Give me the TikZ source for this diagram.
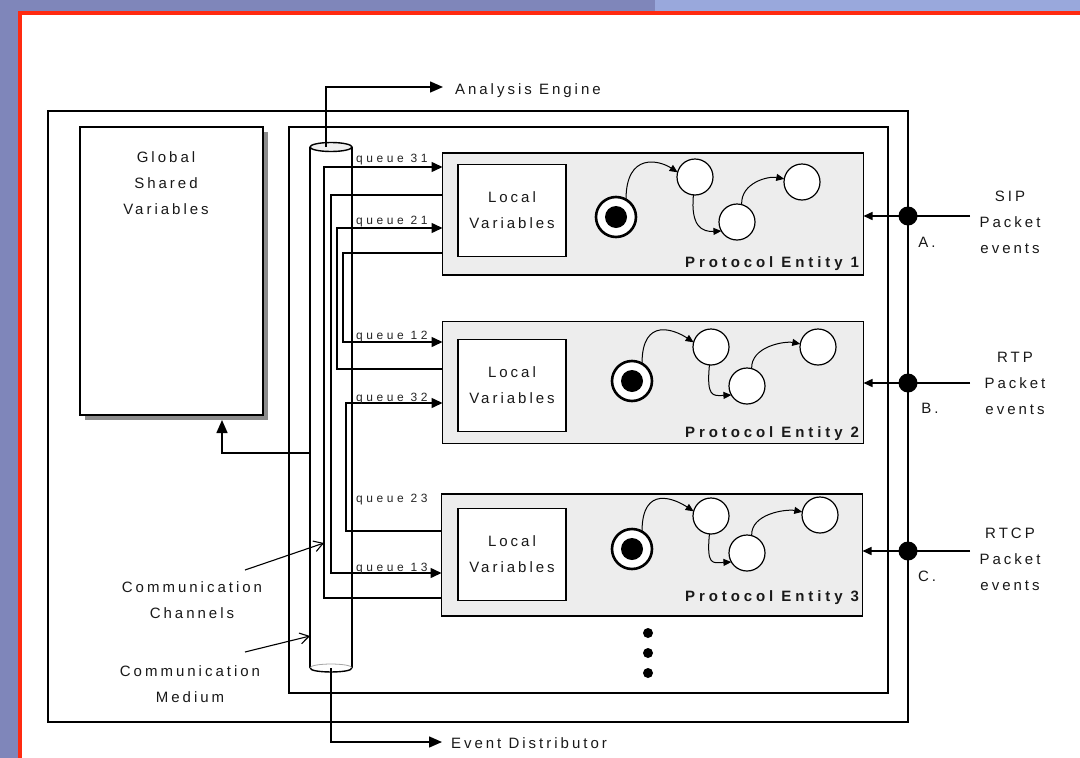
\documentclass[tikz,border=0pt]{standalone}
\usepackage{fontspec}
\setmainfont{Liberation Sans}
\newfontfamily\lsp[LetterSpace=20]{Liberation Sans}
\newfontfamily\lspq[LetterSpace=30]{Liberation Sans}
\newfontfamily\lspb[LetterSpace=26]{Liberation Sans}
\usetikzlibrary{arrows.meta}
\definecolor{bgpurple}{HTML}{7F86BA}
\definecolor{bgblue}{HTML}{99A8DC}
\definecolor{frred}{HTML}{FF2A10}
\newcommand\fsmach[9]{%
  \node[stst] (#1s) at (#2,#3) {};
  \node[dotblk] (#1d) at (#2,#3) {};
  \node[st] (#1a) at (#4,#5) {};
  \node[st] (#1b) at (#6,#7) {};
  \node[st] (#1c) at (#8,#9) {};
  \draw[sarr] (#1s.60) .. controls +(0,-48) and +(-18,-12) .. (#1a.165);
  \draw[sarr] (#1a.265) .. controls +(-3,32) and +(-19,1) .. (#1b.210);
  \draw[sarr] (#1b.75) .. controls +(-1,-22) and +(-16,-3) .. (#1c.170);
}
\begin{document}
\begin{tikzpicture}[x=1pt,y=-1pt,
  every node/.style={inner sep=0pt, outer sep=0pt},
  ln/.style={line width=1.5pt, black},
  tri/.style={ln, -{Triangle[length=13pt,width=11pt]}},
  qtri/.style={ln, -{Triangle[length=11pt,width=10pt]}},
  itri/.style={ln, -{Triangle[length=9pt,width=8pt]}},
  oarr/.style={line width=1.1pt, black, -{Straight Barb[length=9pt,width=11pt]}},
  sarr/.style={line width=1pt, black, -{Triangle[length=8pt,width=7pt]}},
  txt/.style={font=\lsp\fontsize{15}{26}\selectfont, text=black!90, align=center},
  qtxt/.style={font=\lspq\fontsize{12}{13}\selectfont, text=black!85, anchor=base west},
  ptxt/.style={font=\lspb\bfseries\fontsize{15}{16}\selectfont, text=black!90, anchor=base east},
  ent/.style={draw, line width=1.5pt, fill=black!7, minimum width=421pt, minimum height=122pt},
  lv/.style={draw, line width=1.5pt, fill=white, minimum width=108pt, minimum height=92pt, txt},
  st/.style={circle, draw, line width=1.2pt, fill=white, minimum size=36pt},
  stst/.style={circle, draw, line width=2.6pt, fill=white, minimum size=40pt},
  dotblk/.style={circle, fill=black, minimum size=22pt},
  bdot/.style={circle, fill=black, minimum size=19pt},
  edot/.style={circle, fill=black, minimum size=10pt}
]
\useasboundingbox (0,0) rectangle (1080,758);
% background frame
\fill[white] (0,0) rectangle (1080,758);
\fill[bgpurple] (0,0) rectangle (18,758);
\fill[bgpurple] (0,0) rectangle (655,11);
\fill[bgblue] (655,0) rectangle (1080,11);
\draw[frred, line width=4pt] (20,758) -- (20,13) -- (1080,13);

% outer boxes
\draw[ln] (48,111) rectangle (908,722);
\draw[ln] (289,127) rectangle (888,693);

% global shared variables
\fill[black!45] (85,132) rectangle (268,420);
\node[draw, line width=1.5pt, fill=white, minimum width=183pt, minimum height=288pt] (gsv) at (171.5,271) {};
\node[txt] (gsvt) at (166,183) {Global\\Shared\\Variables};

% protocol entities
\node[ent] (e1) at (653,214) {};
\node[ent] (e2) at (653,382.5) {};
\node[ent] (e3) at (652,555) {};
\node[lv] (l1) at (512,210.5) {Local\\Variables};
\node[lv] (l2) at (512,385.5) {Local\\Variables};
\node[lv] (l3) at (512,554.5) {Local\\Variables};
\node[ptxt] (p1) at (859,267) {Protocol Entity 1};
\node[ptxt] (p2) at (859,437) {Protocol Entity 2};
\node[ptxt] (p3) at (859,601) {Protocol Entity 3};

\fsmach{m1}{616}{217}{695}{177}{737}{222}{802}{182}
\fsmach{m2}{632}{381}{711}{347}{747}{386}{818}{347}
\fsmach{m3}{632}{549}{711}{516}{747}{553}{820}{515}

% ellipsis
\node[edot] (el1) at (648,633) {};
\node[edot] (el2) at (648,653) {};
\node[edot] (el3) at (648,673) {};

% tube
\coordinate (ctop) at (331,147);
\coordinate (cbot) at (331,668);
\fill[white] (310,147) rectangle (352,668);
\draw[ln] (310,147) -- (310,668);
\draw[ln] (352,147) -- (352,668);
\draw[line width=1.4pt, fill=black!6] (ctop) ellipse [x radius=21pt, y radius=4.5pt];
\draw[line width=0.8pt, black!35] (310,668) .. controls (310,662.7) and (352,662.7) .. (352,668);
\draw[line width=1.4pt] (310,668) .. controls (310,673.3) and (352,673.3) .. (352,668);

% analysis engine / event distributor
\coordinate (aeStart) at (326,147);
\coordinate (aeTip) at (443,87);
\draw[tri] (aeStart) |- (aeTip);
\node[txt, anchor=west] (ae) at (455,91) {Analysis Engine};
\coordinate (edTip) at (442,742);
\draw[tri] (cbot) |- (edTip);
\node[txt, anchor=west] (ed) at (451,743) {Event Distributor};

% queues
\draw[qtri] (e3.west |- 0,598) -| (324,167) -- (e1.west |- 0,167);
\draw[qtri] (e1.west |- 0,195) -| (331,573) -- (e3.west |- 0,573);
\draw[qtri] (e2.west |- 0,369) -| (337,228) -- (e1.west |- 0,228);
\draw[qtri] (e1.west |- 0,253) -| (343,342) -- (e2.west |- 0,342);
\draw[qtri] (e3.west |- 0,531) -| (346,403) -- (e2.west |- 0,403);
\node[qtxt] (q31) at (356,162) {queue 31};
\node[qtxt] (q21) at (356,224) {queue 21};
\node[qtxt] (q12) at (356,339) {queue 12};
\node[qtxt] (q32) at (356,401) {queue 32};
\node[qtxt] (q23) at (356,502) {queue 23};
\node[qtxt] (q13) at (356,571) {queue 13};

% to global shared variables
\coordinate (gs1) at (310,453);
\coordinate (gsTip) at (222,420);
\draw[tri] (gs1) -| (gsTip);

% communication labels
\coordinate (cc1) at (245,570);
\coordinate (cc2) at (324,543);
\draw[oarr] (cc1) -- (cc2);
\coordinate (cm1) at (245,652);
\coordinate (cm2) at (310,636);
\draw[oarr] (cm1) -- (cm2);
\node[txt] (cct) at (192,600) {Communication\\Channels};
\node[txt] (cmt) at (190,684) {Communication\\Medium};

% inputs
\node[bdot] (da) at (908,216) {};
\node[bdot] (db) at (908,383) {};
\node[bdot] (dc) at (908,551) {};
\coordinate (sa) at (970,216);
\coordinate (sb) at (970,383);
\coordinate (sc) at (970,551);
\draw[itri] (sa) -- (e1.east |- sa);
\draw[itri] (sb) -- (e2.east |- sb);
\draw[itri] (sc) -- (e3.east |- sc);
\node[txt] (la) at (927,242) {A.};
\node[txt] (lb) at (930,408) {B.};
\node[txt] (lc) at (927,576) {C.};
\node[txt] (tsip) at (1010,222) {SIP\\Packet\\events};
\node[txt] (trtp) at (1015,383) {RTP\\Packet\\events};
\node[txt] (trtcp) at (1010,559) {RTCP\\Packet\\events};
\end{tikzpicture}
\end{document}
